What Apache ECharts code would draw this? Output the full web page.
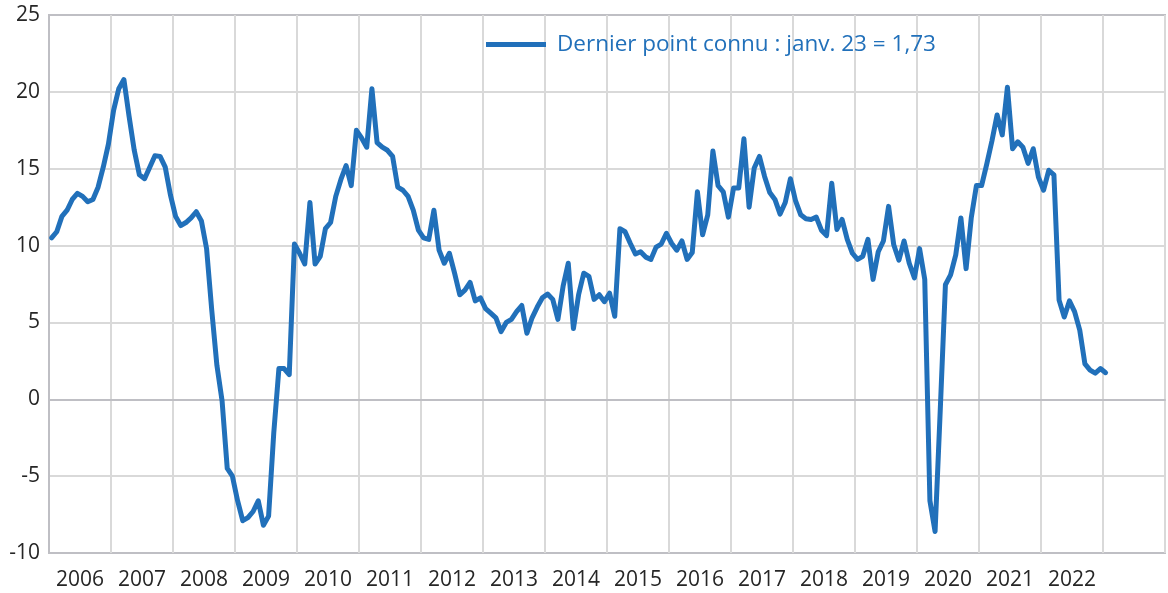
<!DOCTYPE html>
<html>
<head>
    <meta charset="UTF-8">
    <title>Dernier point connu</title>
    <script src="https://cdn.jsdelivr.net/npm/echarts@6/dist/echarts.min.js"></script>
</head>
<body style="margin:0;background:#fff">
<div id="chart" style="width:1168px;height:593px;"></div>
<script>
    // valeurs mensuelles, une liste par année
    var v2006 = [10.5, 10.9, 11.9, 12.3, 13.0, 13.4, 13.2, 12.85, 13.0, 13.8, 15.1, 16.6];
    var v2007 = [18.8, 20.2, 20.8, 18.4, 16.2, 14.6, 14.35, 15.1, 15.85, 15.8, 15.1, 13.3];
    var v2008 = [11.9, 11.3, 11.5, 11.8, 12.2, 11.6, 9.8, 5.8, 2.2, -0.1, -4.5, -5.0];
    var v2009 = [-6.6, -7.9, -7.7, -7.3, -6.6, -8.2, -7.6, -2.2, 2.0, 2.0, 1.6, 10.1];
    var v2010 = [9.5, 8.8, 12.8, 8.8, 9.3, 11.1, 11.5, 13.2, 14.3, 15.2, 13.9, 17.5];
    var v2011 = [17.0, 16.4, 20.2, 16.7, 16.4, 16.2, 15.8, 13.8, 13.6, 13.2, 12.3, 11.0];
    var v2012 = [10.5, 10.4, 12.3, 9.7, 8.85, 9.5, 8.2, 6.8, 7.1, 7.6, 6.4, 6.6];
    var v2013 = [5.9, 5.6, 5.3, 4.4, 5.0, 5.2, 5.7, 6.1, 4.3, 5.3, 6.0, 6.6];
    var v2014 = [6.85, 6.5, 5.2, 7.35, 8.85, 4.6, 6.8, 8.2, 8.0, 6.5, 6.8, 6.35];
    var v2015 = [6.9, 5.4, 11.1, 10.9, 10.15, 9.45, 9.6, 9.25, 9.1, 9.9, 10.1, 10.8];
    var v2016 = [10.15, 9.7, 10.3, 9.1, 9.55, 13.5, 10.7, 12.0, 16.15, 13.9, 13.5, 11.85];
    var v2017 = [13.75, 13.75, 16.95, 12.5, 15.05, 15.8, 14.5, 13.45, 13.0, 12.05, 12.8, 14.35];
    var v2018 = [12.9, 12.0, 11.75, 11.7, 11.85, 11.0, 10.65, 14.05, 11.05, 11.7, 10.4, 9.5];
    var v2019 = [9.1, 9.3, 10.4, 7.8, 9.6, 10.3, 12.55, 10.05, 9.05, 10.3, 8.85, 7.9];
    var v2020 = [9.8, 7.8, -6.6, -8.6, -0.7, 7.45, 8.1, 9.4, 11.8, 8.5, 11.8, 13.9];
    var v2021 = [13.9, 15.3, 16.8, 18.5, 17.2, 20.3, 16.3, 16.75, 16.4, 15.35, 16.3, 14.45];
    var v2022 = [13.6, 14.9, 14.6, 6.45, 5.35, 6.4, 5.7, 4.5, 2.3, 1.9, 1.7, 2.0];
    var v2023 = [1.73];

    var yearLabels = ['2006', '2007', '2008', '2009', '2010', '2011', '2012', '2013', '2014',
        '2015', '2016', '2017', '2018', '2019', '2020', '2021', '2022', ''];

    var values = [].concat(v2006, v2007, v2008, v2009, v2010, v2011, v2012, v2013, v2014,
        v2015, v2016, v2017, v2018, v2019, v2020, v2021, v2022, v2023);

    // un mois par catégorie, de janv. 2006 à déc. 2023
    var months = [];
    for (var y = 2006; y <= 2023; y++) {
        for (var m = 1; m <= 12; m++) {
            months.push(y + '-' + (m < 10 ? '0' + m : m));
        }
    }

    var last = values[values.length - 1];
    var serieName = 'Dernier point connu : janv. 23 = ' + last.toFixed(2).replace('.', ',');

    var blue = '#2170BA';
    var border = '#bfbfc4';
    var grid = '#d9d9d9';

    var chart = echarts.init(document.getElementById('chart'));
    var option = {
        animation: false,
        backgroundColor: '#fff',
        textStyle: {fontFamily: 'Open Sans'},
        grid: {
            left: 49, right: 3, top: 15, bottom: 40,
            outerBoundsMode: 'none',
            show: true, borderColor: border, borderWidth: 2
        },
        legend: {
            left: 486, top: 33, padding: 0,
            icon: 'rect', itemWidth: 60, itemHeight: 5,
            textStyle: {color: blue, fontSize: 22.5, padding: [0, 0, 0, 6]}
        },
        xAxis: [
            {
                type: 'category',
                data: months,
                boundaryGap: true,
                axisLine: {lineStyle: {color: border, width: 2}},
                axisTick: {interval: 11, length: 12, lineStyle: {color: border, width: 2}},
                axisLabel: {show: false},
                splitLine: {show: true, interval: 11, lineStyle: {color: grid, width: 2}}
            },
            {
                type: 'category',
                data: yearLabels,
                position: 'bottom',
                boundaryGap: true,
                axisLine: {show: false},
                axisTick: {show: false},
                axisLabel: {interval: 0, margin: 17, fontSize: 21, color: '#262626'},
                splitLine: {show: false}
            }
        ],
        yAxis: {
            type: 'value',
            min: -10, max: 25, interval: 5,
            axisLine: {show: true, lineStyle: {color: border, width: 2}},
            axisTick: {show: false},
            axisLabel: {margin: 9, fontSize: 21, color: '#262626'},
            splitLine: {
                lineStyle: {
                    color: [border, grid, border, grid, grid, grid, grid, border],
                    width: 2
                }
            }
        },
        series: [{
            name: serieName,
            type: 'line',
            data: values,
            symbol: 'none',
            itemStyle: {color: blue},
            lineStyle: {color: blue, width: 5, cap: 'round', join: 'round'}
        }]
    };

    chart.setOption(option);
</script>
</body>
</html>
